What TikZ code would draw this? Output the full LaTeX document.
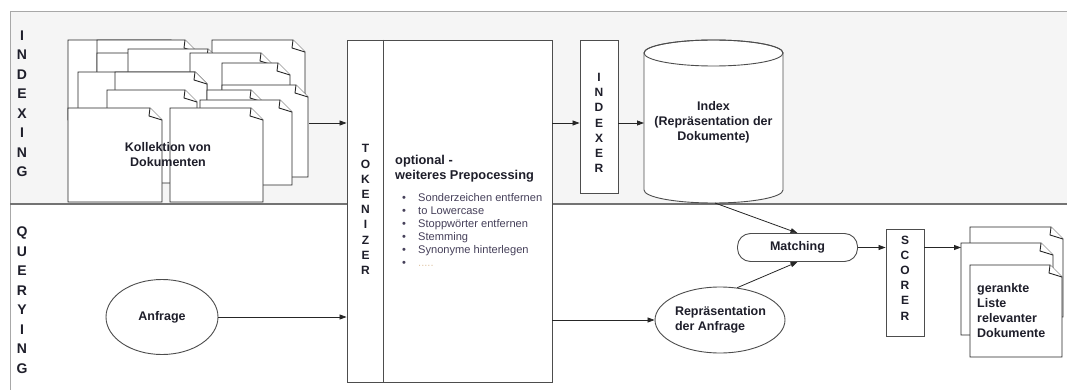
\documentclass[tikz,border=0pt]{standalone}
\usepackage{fontspec}
\setmainfont{Liberation Sans}
\usetikzlibrary{shapes.geometric,arrows.meta}
\definecolor{lanefill}{HTML}{F5F5F5}
\definecolor{laneline}{HTML}{A8A8A8}
\definecolor{boxline}{HTML}{4D4D4D}
\definecolor{txt}{HTML}{1E1E2A}
\definecolor{listtxt}{HTML}{46405A}
\definecolor{dotcol}{HTML}{E0C6A6}
\newcommand\notedoc[4]{%
  \draw[docshape] (#1,#2) -- ({#1+#3-12},#2) -- ({#1+#3},{#2+12}) -- ({#1+#3},{#2+#4}) -- (#1,{#2+#4}) -- cycle;
  \draw[docshape] ({#1+#3-12},#2) -- ({#1+#3-13},{#2+8}) -- ({#1+#3},{#2+12});%
}
\begin{document}
\begin{tikzpicture}[x=1pt,y=-1pt,
  docshape/.style={draw=black!85, line width=0.9pt, fill=white, line join=miter},
  box/.style={draw=boxline, line width=0.9pt, fill=white, inner sep=0pt},
  lbl/.style={font=\bfseries\fontsize{12.5}{15}\selectfont, text=txt, inner sep=0pt},
  vlane/.style={font=\bfseries\fontsize{14}{19.5}\selectfont, align=center, text=txt, inner sep=0pt},
  vbox/.style={font=\bfseries\fontsize{12}{15.2}\selectfont, align=center, text=txt, inner sep=0pt},
  arr/.style={draw=black!85, line width=0.8pt, -{Triangle[length=7pt,width=5pt]}},
]
\useasboundingbox (0,0) rectangle (1067,390);

% lanes
\fill[lanefill] (10,12) rectangle (1080,204);
\draw[laneline, line width=1pt] (1080,12) -- (10,12) -- (10,400);
\draw[black!55, line width=1.2pt] (10,204) -- (1080,204);
\node[vlane] (lblidx) at (22,104) {I\\N\\D\\E\\X\\I\\N\\G};
\node[vlane] (lblqry) at (22,300) {Q\\U\\E\\R\\Y\\I\\N\\G};

% document collection
\notedoc{68}{40}{115}{80}
\notedoc{97}{40}{100}{70}
\notedoc{212}{40}{93}{70}
\notedoc{97}{53}{110}{60}
\notedoc{128}{49}{92}{70}
\notedoc{190}{53}{83}{60}
\notedoc{222}{63}{68}{60}
\notedoc{78}{72}{129}{80}
\notedoc{115}{72}{92}{70}
\notedoc{222}{85}{86}{92}
\notedoc{107}{90}{90}{93}
\notedoc{207}{90}{56}{60}
\notedoc{200}{100}{92}{85}
\notedoc{68}{108}{94}{94}
\notedoc{170}{108}{93}{94}
\node[lbl, align=center] (koll) at (168,155) {Kollektion von\\Dokumenten};
\coordinate (stackR) at (309,123);

% tokenizer + preprocessing
\node[box, minimum width=205pt, minimum height=342pt] (tok) at (449.5,211) {};
\draw[boxline, line width=0.9pt] ([xshift=37pt]tok.north west) -- ([xshift=37pt]tok.south west);
\node[vbox] (toklbl) at (365.5,209.5) {T\\O\\K\\E\\N\\I\\Z\\E\\R};
\node[lbl, font=\bfseries\fontsize{12.8}{15}\selectfont, align=left, anchor=north west] (pretitle) at (395,155.5) {optional -\\weiteres Prepocessing};
\node[inner sep=0pt, anchor=north west, align=left, text=listtxt,
      font=\fontsize{11.1}{13}\selectfont] (prelist) at (402,193)
  {\makebox[16pt][l]{\textbullet}Sonderzeichen entfernen\\
   \makebox[16pt][l]{\textbullet}to Lowercase\\
   \makebox[16pt][l]{\textbullet}Stoppwörter entfernen\\
   \makebox[16pt][l]{\textbullet}Stemming\\
   \makebox[16pt][l]{\textbullet}Synonyme hinterlegen\\
   \makebox[16pt][l]{\textcolor{listtxt}{\textbullet}}\textcolor{dotcol}{.....}};

% indexer
\node[box, minimum width=38pt, minimum height=153pt] (indexer) at (599,116.5) {};
\node[vbox] (indexerlbl) at (599,123) {I\\N\\D\\E\\X\\E\\R};

% index cylinder
\draw[box] (644,53) -- (644,190) arc[start angle=180, end angle=0, x radius=69.5, y radius=13]
  -- (783,53) arc[start angle=0, end angle=-180, x radius=69.5, y radius=13] -- cycle;
\draw[boxline, line width=0.9pt] (713.5,53) ellipse[x radius=69.5, y radius=13];
\node[lbl, align=center] (indexlbl) at (713.5,122.5) {Index\\(Repräsentation der\\Dokumente)};
\coordinate (idxL) at (644,123);
\coordinate (idxB) at (715,203);

% querying
\node[box, ellipse, minimum width=112pt, minimum height=75pt] (anfrage) at (162,317) {};
\node[lbl] (anfragelbl) at (162,317) {Anfrage};
\node[box, ellipse, minimum width=130pt, minimum height=66pt] (repr) at (720,320) {};
\node[lbl, align=left] (reprlbl) at (720.5,319.5) {Repräsentation\\der Anfrage};
\node[box, rounded corners=13pt, minimum width=120pt, minimum height=28pt] (matching) at (797.5,247.5) {};
\node[lbl] (matchinglbl) at (797.5,247.5) {Matching};
\node[box, minimum width=38pt, minimum height=107pt] (scorer) at (905,282.5) {};
\node[vbox] (scorerlbl) at (905,278) {S\\C\\O\\R\\E\\R};

% result documents
\notedoc{970}{227}{93}{90}
\notedoc{961}{243}{92}{92}
\notedoc{970}{265}{92}{92}
\node[lbl, align=left, anchor=west] (reslbl) at (977,310.5) {gerankte\\Liste\\relevanter\\Dokumente};
\coordinate (resL) at (961,247.5);

% connectors
\draw[arr] (stackR) -- (stackR -| tok.west);
\draw[arr] (tok.east |- stackR) -- (indexer.west |- stackR);
\draw[arr] (indexer.east |- stackR) -- (idxL);
\draw[arr] (anfrage.east) -- (anfrage.east -| tok.west);
\draw[arr] (tok.east |- repr) -- (repr.west);
\draw[arr] (idxB) -- (matching.north);
\draw[arr] (repr.62) -- (matching.south);
\draw[arr] (matching.east) -- (scorer.west |- matching.east);
\draw[arr] (scorer.east |- matching.east) -- (resL);
\end{tikzpicture}
\end{document}
